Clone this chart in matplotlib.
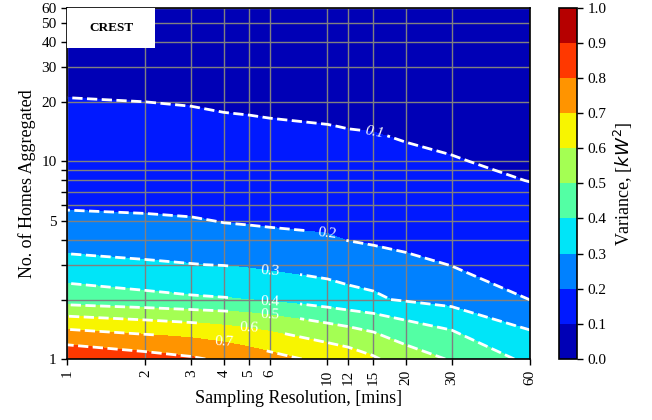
import numpy as np
import matplotlib
matplotlib.use("Agg")
import matplotlib.pyplot as plt
from matplotlib.patches import Rectangle

plt.rcParams["font.family"] = ["Liberation Serif", "DejaVu Serif"]

resolutions = [1, 2, 3, 4, 5, 6, 10, 12, 15, 20, 30, 60]   # mins
homes = [1, 2, 3, 4, 5, 6, 8, 10, 15, 20, 30, 60]

# variance [kW^2] against number of homes, one list per sampling resolution
var_1min = [0.877, 0.449, 0.332, 0.254, 0.222, 0.189, 0.165, 0.148, 0.122, 0.102, 0.082, 0.055]
var_2min = [0.837, 0.426, 0.310, 0.257, 0.214, 0.183, 0.160, 0.143, 0.118, 0.100, 0.080, 0.053]
var_3min = [0.812, 0.412, 0.302, 0.255, 0.210, 0.168, 0.148, 0.134, 0.112, 0.097, 0.077, 0.051]
var_4min = [0.782, 0.406, 0.297, 0.240, 0.195, 0.160, 0.140, 0.127, 0.107, 0.094, 0.074, 0.049]
var_5min = [0.754, 0.399, 0.287, 0.232, 0.190, 0.158, 0.137, 0.124, 0.106, 0.092, 0.073, 0.048]
var_6min = [0.731, 0.386, 0.277, 0.225, 0.186, 0.155, 0.134, 0.121, 0.104, 0.091, 0.072, 0.047]
var_10min = [0.668, 0.345, 0.262, 0.210, 0.179, 0.150, 0.128, 0.115, 0.101, 0.088, 0.069, 0.045]
var_12min = [0.648, 0.326, 0.256, 0.198, 0.172, 0.146, 0.125, 0.112, 0.099, 0.086, 0.068, 0.044]
var_15min = [0.612, 0.310, 0.262, 0.181, 0.160, 0.140, 0.120, 0.109, 0.098, 0.083, 0.065, 0.043]
var_20min = [0.546, 0.290, 0.225, 0.171, 0.150, 0.134, 0.114, 0.105, 0.095, 0.080, 0.062, 0.041]
var_30min = [0.491, 0.264, 0.197, 0.165, 0.143, 0.128, 0.110, 0.102, 0.089, 0.077, 0.060, 0.039]
var_60min = [0.368, 0.199, 0.160, 0.140, 0.125, 0.114, 0.099, 0.090, 0.075, 0.065, 0.052, 0.035]

variance = np.column_stack([var_1min, var_2min, var_3min, var_4min, var_5min, var_6min,
                            var_10min, var_12min, var_15min, var_20min, var_30min, var_60min])

ytick_vals = [1, 2, 3, 4, 5, 6, 7, 8, 9, 10, 20, 30, 40, 50, 60]
ytick_labels = ["1", "", "", "", "5", "", "", "", "", "10", "20", "30", "40", "50", "60"]

fill_levels = np.round(np.arange(0, 1.01, 0.1), 1)
line_levels = np.round(np.arange(0.1, 0.81, 0.1), 1)

fig = plt.figure(figsize=(6.52, 4.2), dpi=100)
ax = fig.add_axes([0.1028, 0.1452, 0.7101, 0.8369])
cax = fig.add_axes([0.857, 0.1452, 0.028, 0.8369])

X, Y = np.meshgrid(resolutions, homes)
cf = ax.contourf(X, Y, variance, levels=fill_levels, cmap="jet", vmin=0, vmax=1)
cs = ax.contour(X, Y, variance, levels=line_levels, colors="white",
                linewidths=2, linestyles="--")

label_pos = [(15.2, 14.1), (10.0, 4.34), (6.0, 2.79), (6.0, 1.96),
             (6.0, 1.67), (5.0, 1.45), (4.0, 1.2)]
labels = ax.clabel(cs, levels=line_levels[:7], fmt="%.1f", fontsize=11,
                   colors="white", inline=True, manual=label_pos)
for t in labels:
    if t.get_text() == "0.1":
        t.set_style("italic")

ax.set_xscale("log")
ax.set_yscale("log")
ax.set_xlim(1, 60)
ax.set_ylim(1, 60)
ax.set_xticks(resolutions)
ax.set_xticklabels([str(r) for r in resolutions], rotation=90)
ax.set_yticks(ytick_vals)
ax.set_yticklabels(ytick_labels)
ax.minorticks_off()
ax.tick_params(labelsize=11, width=1, length=4)
ax.grid(True, color="#808080", linewidth=1)
for s in ax.spines.values():
    s.set_linewidth(1.2)

ax.set_xlabel("Sampling Resolution, [mins]", fontsize=13)
ax.set_ylabel("No. of Homes Aggregated", fontsize=13)

ax.add_patch(Rectangle((0, 0.885), 0.19, 0.115, transform=ax.transAxes,
                       facecolor="white", edgecolor="none", zorder=5))
ax.text(0.095, 0.942, "CREST", transform=ax.transAxes, ha="center", va="center",
        fontsize=9.5, fontweight="bold", zorder=6)

cb = fig.colorbar(cf, cax=cax, ticks=fill_levels)
cb.ax.tick_params(labelsize=11, width=1, length=4)
cb.set_label("Variance, [$kW^2$]", fontsize=13)
cb.outline.set_linewidth(1.2)

fig.savefig("out.png", dpi=100)
